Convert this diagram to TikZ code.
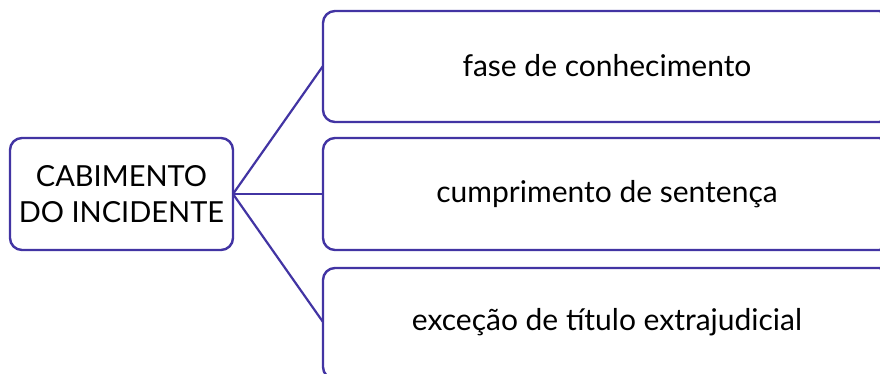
\documentclass[tikz,border=0pt]{standalone}
\usepackage{fontspec}
\setmainfont{Lato}
\definecolor{edge}{RGB}{66,52,163}
\begin{document}
\begin{tikzpicture}[x=1pt,y=1pt,
  box/.style={draw=edge,line width=2.4pt,rounded corners=12pt,fill=white,inner sep=0pt},
  conn/.style={draw=edge,line width=2.2pt},
  txt/.style={font=\fontsize{30}{36}\selectfont,text=black}]
\useasboundingbox (0,0) rectangle (880,374);
\clip (0,0) rectangle (880,374);
% left box
\draw[box] (10,124) rectangle (233,236);
\node[txt,align=center,font=\fontsize{29}{36}\selectfont] (L) at (121.5,180) {CABIMENTO\\DO INCIDENTE};
\coordinate (Lr) at (233,180);
% right boxes
\draw[box] (323,252) rectangle (891,363);
\draw[box] (323,124) rectangle (891,236);
\draw[box] (323,-5) rectangle (891,106);
\coordinate (A) at (323,308);
\coordinate (B) at (323,180);
\coordinate (C) at (323,52);
\node[txt] (ta) at (607,308) {fase de conhecimento};
\node[txt] (tb) at (607,180) {cumprimento de sentença};
\node[txt] (tc) at (607,52) {exceção de título extrajudicial};
\draw[conn] (Lr) -- (A);
\draw[conn] (Lr) -- (B);
\draw[conn] (Lr) -- (C);
\end{tikzpicture}
\end{document}
